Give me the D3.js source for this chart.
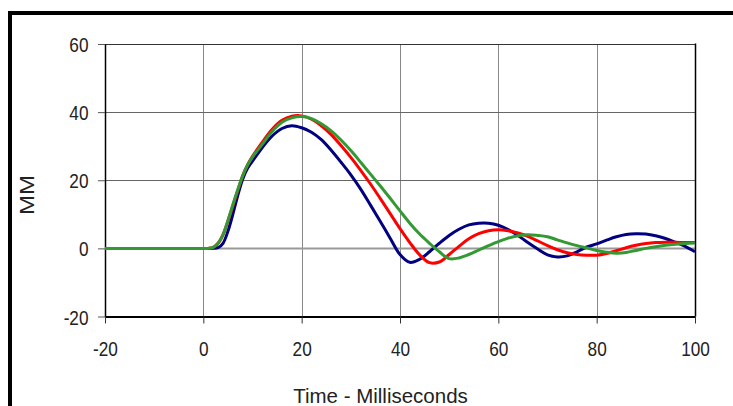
<!DOCTYPE html>
<html>
<head>
<meta charset="utf-8">
<script src="https://cdn.jsdelivr.net/npm/d3@7"></script>
<style>
  html, body { margin: 0; padding: 0; background: #fff; }
  svg { display: block; }
  text { font-family: "Liberation Sans", Arial, sans-serif; fill: #222; }
</style>
</head>
<body>
<svg id="chart" width="733" height="406"></svg>
<script>
// ---- data ----
const time = [-20, 0, 1, 2, 3, 4, 5, 6, 7, 8, 9, 10, 12, 14, 16, 18, 20, 22, 24, 26, 28, 30, 32, 34, 36, 38, 40, 42, 44, 46, 48, 50, 52, 54, 56, 58, 60, 62, 64, 66, 68, 70, 72, 74, 76, 78, 80, 82, 84, 86, 88, 90, 92, 94, 96, 98, 100];
const seriesBlue = [0, 0, 0, 0, 0.2, 1.5, 5, 10, 15.5, 20.3, 23.5, 25.6, 29.6, 33, 35.2, 36, 35.4, 34.1, 31.9, 28.8, 25.3, 21.6, 17.4, 12.7, 7.9, 3.0, -1.8, -4.1, -3.2, -1, 1.5, 3.8, 5.6, 6.9, 7.4, 7.4, 6.8, 5.5, 3.8, 1.7, -0.2, -1.9, -2.5, -2.2, -1.0, 0.4, 1.3, 2.4, 3.4, 4.1, 4.3, 4.2, 3.7, 2.9, 1.8, 0.6, -1.0];
const seriesRed = [0, 0, 0, 0.3, 1.5, 4, 8, 12.5, 17, 21.3, 24.5, 27, 31.2, 35, 37.6, 38.8, 38.9, 37.9, 36, 33.4, 30.2, 26.7, 22.9, 18.9, 14.6, 10.2, 5.8, 1.7, -1.9, -4.2, -4, -1.8, 0.6, 2.8, 4.3, 5.2, 5.5, 5.2, 4.5, 3.5, 2.2, 0.8, -0.4, -1.3, -1.8, -2.0, -2.0, -1.5, -0.7, 0.2, 0.9, 1.4, 1.7, 1.8, 1.8, 1.7, 1.7];
const seriesGreen = [0, 0, 0, 0.3, 1.5, 4, 8.2, 12.8, 17.2, 21.3, 24.5, 26.8, 30.6, 34.3, 37, 38.3, 38.7, 38.1, 36.6, 34.5, 31.8, 28.7, 25.3, 21.8, 18.3, 14.7, 11.0, 7.4, 4.2, 1.5, -1.0, -3.0, -2.8, -1.8, -0.5, 0.8, 2.0, 3.0, 3.7, 4.0, 3.8, 3.4, 2.5, 1.6, 0.8, 0.1, -0.6, -1.1, -1.4, -1.2, -0.6, 0, 0.5, 0.9, 1.2, 1.4, 1.6];
const xTicks = [-20, 0, 20, 40, 60, 80, 100];
const yTicks = [-20, 0, 20, 40, 60];
const xTitle = "Time - Milliseconds";
const yTitle = "MM";
const seriesColors = ["#000080", "#FF0000", "#339933"];

// ---- layout ----
const svg = d3.select("#chart");
const pL = 105, pR = 695, pT = 44, pB = 316.5;
const x = d3.scaleLinear().domain([-20, 100]).range([pL, pR]);
const y = d3.scaleLinear().domain([-20, 60]).range([pB, pT]);

// outer frame (left + top edges)
svg.append("path")
  .attr("d", `M10,406 V13 H733`)
  .attr("fill", "none").attr("stroke", "#000").attr("stroke-width", 4);

// grid
const grid = svg.append("g");
grid.selectAll("line.v").data(xTicks.filter(d => d > -20 && d < 100)).join("line")
  .attr("x1", d => Math.round(x(d)) + 0.5).attr("x2", d => Math.round(x(d)) + 0.5)
  .attr("y1", pT).attr("y2", pB)
  .attr("stroke", "#888").attr("stroke-width", 1);
grid.selectAll("line.h").data(yTicks.filter(d => d > -20 && d !== 0)).join("line")
  .attr("x1", pL).attr("x2", pR)
  .attr("y1", d => Math.round(y(d)) + 0.5).attr("y2", d => Math.round(y(d)) + 0.5)
  .attr("stroke", d => d === 60 ? "#333" : "#666").attr("stroke-width", 1);
// zero line
grid.append("line")
  .attr("x1", pL).attr("x2", pR).attr("y1", y(0)).attr("y2", y(0))
  .attr("stroke", "#999").attr("stroke-width", 2);
// right border of plot
grid.append("line")
  .attr("x1", pR + 0.5).attr("x2", pR + 0.5).attr("y1", pT - 0.5).attr("y2", pB)
  .attr("stroke", "#000").attr("stroke-width", 1.5);

// axes
const fs = 20.5, sx = 0.84;
const fmt = d => String(d);
const yAxis = svg.append("g").attr("transform", `translate(${pL},0)`)
  .call(d3.axisLeft(y).tickValues(yTicks).tickSize(7).tickSizeOuter(0).tickFormat(fmt));
yAxis.select(".domain").attr("stroke", "#000").attr("stroke-width", 1.5);
yAxis.selectAll(".tick line").attr("stroke", "#555");
yAxis.selectAll(".tick text")
  .attr("x", -16.5 / sx).attr("dy", null).attr("y", 7.5)
  .attr("transform", `scale(${sx},1)`)
  .attr("font-size", fs).attr("fill", "#222");

const xAxis = svg.append("g").attr("transform", `translate(0,${pB})`)
  .call(d3.axisBottom(x).tickValues(xTicks).tickSize(7).tickSizeOuter(0).tickFormat(fmt));
xAxis.select(".domain").attr("stroke", "#000").attr("stroke-width", 2);
xAxis.selectAll(".tick line").attr("stroke", "#333");
xAxis.selectAll(".tick text")
  .attr("dy", null).attr("y", 39.5).attr("x", 0)
  .attr("transform", `scale(${sx},1)`)
  .attr("font-size", fs).attr("fill", "#222");

// titles
svg.append("text")
  .attr("x", 380.5).attr("y", 403)
  .attr("text-anchor", "middle")
  .attr("font-size", 20.5)
  .text(xTitle);
svg.append("text")
  .attr("transform", `translate(34,195) scale(0.88,1) rotate(-90)`)
  .attr("text-anchor", "middle")
  .attr("font-size", 24)
  .text(yTitle);

// lines
const allSeries = [seriesBlue, seriesRed, seriesGreen];
const line = d3.line()
  .x((d, i) => x(time[i]))
  .y(d => y(d))
  .curve(d3.curveCatmullRom.alpha(0.5));
svg.append("g").selectAll("path.series").data(allSeries).join("path")
  .attr("class", "series")
  .attr("d", d => line(d))
  .attr("fill", "none")
  .attr("stroke", (d, i) => seriesColors[i])
  .attr("stroke-width", 3)
  .attr("stroke-linejoin", "round");
</script>
</body>
</html>
